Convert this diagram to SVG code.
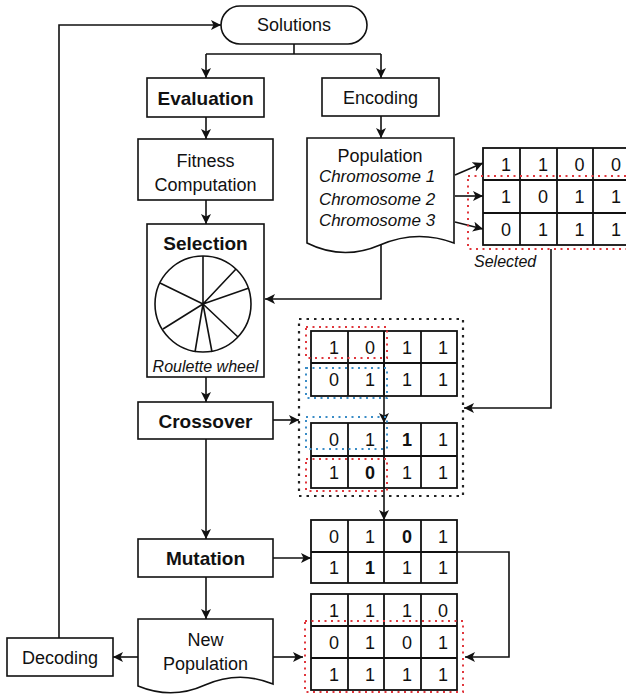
<svg xmlns="http://www.w3.org/2000/svg" width="626" height="694" viewBox="0 0 626 694">
  <style>
    .box { fill: #fff; stroke: #111; stroke-width: 1.6; }
    .grid { fill: none; stroke: #111; stroke-width: 1.8; }
    .ln { fill: none; stroke: #111; stroke-width: 1.6; }
    .arr { marker-end: url(#ah); }
    .t { font-family: "Liberation Sans", Arial, sans-serif; font-size: 18px; fill: #111; text-anchor: middle; }
    .b { font-weight: bold; }
    .lb { font-size: 19px; }
    .i { font-style: italic; }
    .s16 { font-size: 16px; }
    .s17 { font-size: 17px; }
    .red { fill: none; stroke: #e0363c; stroke-width: 2; stroke-dasharray: 2 4.5; }
    .blue { fill: none; stroke: #3a8cc6; stroke-width: 2; stroke-dasharray: 2 4.5; }
    .dots { fill: none; stroke: #222; stroke-width: 2.2; stroke-dasharray: 2.5 5; }
  </style>
  <defs>
    <marker id="ah" markerUnits="userSpaceOnUse" markerWidth="11" markerHeight="10" refX="10" refY="5" orient="auto">
      <path d="M0,0 L10,5 L0,10 L2.5,5 Z" fill="#111"/>
    </marker>
  </defs>

  <rect width="626" height="694" fill="#fff"/>

  <!-- connectors -->
  <g id="connectors">
    <path class="ln" d="M294,44 V54 M206,54 H381"/>
    <path class="ln arr" d="M206,54 V78"/>
    <path class="ln arr" d="M381,54 V78"/>
    <path class="ln arr" d="M206,117 V139"/>
    <path class="ln arr" d="M206,200 V224"/>
    <path class="ln arr" d="M381,116 V138"/>
    <path class="ln arr" d="M455,175 L483,163"/>
    <path class="ln arr" d="M455,196 H483"/>
    <path class="ln arr" d="M455,222 L483,229"/>
    <path class="ln arr" d="M381,245 V299 H265"/>
    <path class="ln arr" d="M551,249 V408 H464"/>
    <path class="ln arr" d="M206,377 V402"/>
    <path class="ln arr" d="M273,420 H299"/>
    <path class="ln arr" d="M384,331 V423"/>
    <path class="ln arr" d="M384,488 V520"/>
    <path class="ln arr" d="M206,439 V539"/>
    <path class="ln arr" d="M273,558 H311"/>
    <path class="ln arr" d="M457,552 H509 V657 H465"/>
    <path class="ln arr" d="M206,577 V619"/>
    <path class="ln arr" d="M273,657 H303"/>
    <path class="ln arr" d="M138,657 H113"/>
    <path class="ln arr" d="M59,638 V25 H221"/>
  </g>

  <!-- Solutions -->
  <g id="solutions">
    <rect class="box" x="221" y="6" width="146" height="38" rx="19"/>
    <text class="t" x="294" y="31">Solutions</text>
  </g>

  <!-- Evaluation -->
  <g id="evaluation">
    <rect class="box" x="147" y="78" width="117" height="39"/>
    <text class="t b lb" x="205.5" y="104.5">Evaluation</text>
  </g>

  <!-- Encoding -->
  <g id="encoding">
    <rect class="box" x="322" y="78" width="117" height="38"/>
    <text class="t" x="380.5" y="103.5">Encoding</text>
  </g>

  <!-- Fitness Computation -->
  <g id="fitness">
    <rect class="box" x="138" y="139" width="135" height="61"/>
    <text class="t" x="205.5" y="166.5">Fitness</text>
    <text class="t" x="205.5" y="190.5">Computation</text>
  </g>

  <!-- Population document -->
  <g id="population">
    <path class="box" d="M307,138 H454 V243 Q417,229 380,245 Q343,261 307,243 Z"/>
    <text class="t" x="380" y="161.5">Population</text>
    <text class="t i s17" x="377" y="182">Chromosome 1</text>
    <text class="t i s17" x="377" y="204.5">Chromosome 2</text>
    <text class="t i s17" x="377" y="226">Chromosome 3</text>
  </g>

  <!-- Chromosome table -->
  <g id="chromosomes">
    <rect class="grid" x="483" y="148" width="150" height="97"/>
    <path class="grid" d="M483,180 H633 M483,213 H633 M520,148 V245 M557,148 V245 M593,148 V245"/>
    <g class="t">
      <text x="506" y="170.5">1</text><text x="543" y="170.5">1</text><text x="579.5" y="170.5">0</text><text x="616" y="170.5">0</text>
      <text x="506" y="203">1</text><text x="543" y="203">0</text><text x="579.5" y="203">1</text><text x="616" y="203">1</text>
      <text x="506" y="235.5">0</text><text x="543" y="235.5">1</text><text x="579.5" y="235.5">1</text><text x="616" y="235.5">1</text>
    </g>
    <rect class="red" x="468" y="176" width="170" height="73"/>
    <text class="t i s16" x="474" y="267" style="text-anchor:start">Selected</text>
  </g>

  <!-- Selection with roulette wheel -->
  <g id="selection">
    <rect class="box" x="147" y="224" width="117" height="153"/>
    <text class="t b lb" x="205.5" y="250">Selection</text>
    <circle cx="203" cy="304" r="48" fill="none" stroke="#111" stroke-width="1.6"/>
    <path class="ln" d="M203,304 L203,256 M203,304 L236,269 M203,304 L249,288 M203,304 L238,337 M203,304 L212,352 M203,304 L195,352 M203,304 L163,329 M203,304 L160,283"/>
    <text class="t i s16" x="205.5" y="372">Roulette wheel</text>
  </g>

  <!-- Crossover -->
  <g id="crossover">
    <rect class="box" x="138" y="402" width="135" height="37"/>
    <text class="t b lb" x="205.5" y="427.5">Crossover</text>
  </g>

  <!-- Crossover parents and offspring -->
  <g id="crossover-block">
    <rect class="dots" x="299" y="319" width="164" height="177"/>
    <rect class="grid" x="311" y="331" width="146" height="65"/>
    <path class="grid" d="M311,363 H457 M348,331 V396 M384,331 V396 M421,331 V396"/>
    <rect class="grid" x="311" y="423" width="146" height="65"/>
    <path class="grid" d="M311,456 H457 M348,423 V488 M384,423 V488 M421,423 V488"/>
    <g class="t">
      <text x="334" y="353.5">1</text><text x="370" y="353.5">0</text><text x="407" y="353.5">1</text><text x="443" y="353.5">1</text>
      <text x="334" y="386">0</text><text x="370" y="386">1</text><text x="407" y="386">1</text><text x="443" y="386">1</text>
      <text x="334" y="446">0</text><text x="370" y="446">1</text><text x="407" y="446" class="b">1</text><text x="443" y="446">1</text>
      <text x="334" y="478.5">1</text><text x="370" y="478.5" class="b">0</text><text x="407" y="478.5">1</text><text x="443" y="478.5">1</text>
    </g>
    <rect class="red" x="306" y="327" width="81" height="31"/>
    <rect class="blue" x="306" y="368" width="81" height="30"/>
    <rect class="blue" x="306" y="417" width="81" height="32"/>
    <rect class="red" x="306" y="459" width="81" height="32"/>
  </g>

  <!-- Mutation -->
  <g id="mutation">
    <rect class="box" x="138" y="539" width="135" height="38"/>
    <text class="t b lb" x="205.5" y="565">Mutation</text>
  </g>

  <!-- Mutated chromosomes -->
  <g id="mutation-table">
    <rect class="grid" x="311" y="520" width="146" height="63"/>
    <path class="grid" d="M311,552 H457 M348,520 V583 M384,520 V583 M421,520 V583"/>
    <g class="t">
      <text x="334" y="542.5">0</text><text x="370" y="542.5">1</text><text x="407" y="542.5" class="b">0</text><text x="443" y="542.5">1</text>
      <text x="334" y="574">1</text><text x="370" y="574" class="b">1</text><text x="407" y="574">1</text><text x="443" y="574">1</text>
    </g>
  </g>

  <!-- New Population document -->
  <g id="new-population">
    <path class="box" d="M138,619 H273 V684 Q239,670 205,685 Q172,700 138,686 Z"/>
    <text class="t" x="205.5" y="645.5">New</text>
    <text class="t" x="205.5" y="669.5">Population</text>
  </g>

  <!-- New population table -->
  <g id="new-population-table">
    <rect class="grid" x="311" y="594" width="146" height="96"/>
    <path class="grid" d="M311,626 H457 M311,658 H457 M348,594 V690 M384,594 V690 M421,594 V690"/>
    <g class="t">
      <text x="334" y="616.5">1</text><text x="370" y="616.5">1</text><text x="407" y="616.5">1</text><text x="443" y="616.5">0</text>
      <text x="334" y="648.5">0</text><text x="370" y="648.5">1</text><text x="407" y="648.5">0</text><text x="443" y="648.5">1</text>
      <text x="334" y="680.5">1</text><text x="370" y="680.5">1</text><text x="407" y="680.5">1</text><text x="443" y="680.5">1</text>
    </g>
    <rect class="red" x="305" y="621" width="158" height="71"/>
  </g>

  <!-- Decoding -->
  <g id="decoding">
    <rect class="box" x="7" y="638" width="106" height="38"/>
    <text class="t" x="60" y="663.5">Decoding</text>
  </g>
</svg>
